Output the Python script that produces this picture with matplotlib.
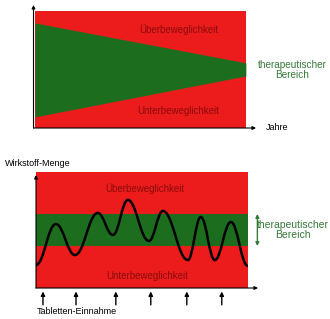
import numpy as np
import matplotlib
matplotlib.use("Agg")
import matplotlib.pyplot as plt
from matplotlib.path import Path
from matplotlib.patches import PathPatch

# top panel: therapeutic window narrowing over the years (0..10 on both axes)
window_x = [0, 10]
window_upper = [8.97, 5.56]
window_lower = [0.94, 4.44]

# bottom panel: drug level extrema over time
wave_t = [0, 0.94, 1.84, 2.92, 3.63, 4.34, 5.33, 5.99, 7.17, 7.78, 8.44, 9.2, 10]
wave_y = [1.98, 5.52, 2.84, 6.47, 4.57, 7.59, 4.05, 6.64, 2.41, 6.12, 2.41, 5.69, 1.9]
band = [3.62, 6.38]
doses = [0.33, 1.89, 3.77, 5.42, 7.12, 8.77]

red = "#ec1c1c"
green = "#1c6e1e"
dark_red = "#8b0a0a"
text_green = "#357a38"
plt.rcParams['font.family'] = ['Liberation Sans', 'DejaVu Sans']

fig = plt.figure(figsize=(3.3, 3.19), dpi=100)

# ---------- top ----------
ax1 = fig.add_axes([0.106, 0.599, 0.639, 0.367])
ax1.set_xlim(0, 10)
ax1.set_ylim(0, 10)
ax1.axvspan(0, 10, color=red, lw=0)
ax1.fill_between(window_x, window_lower, window_upper, color=green, lw=0)
ax1.text(6.8, 8.4, "Überbeweglichkeit", ha="center", va="center", color=dark_red, fontsize=7)
ax1.text(6.8, 1.45, "Unterbeweglichkeit", ha="center", va="center", color=dark_red, fontsize=7)
ax1.axis("off")

# ---------- bottom ----------
ax2 = fig.add_axes([0.109, 0.0972, 0.642, 0.3636])
ax2.set_xlim(0, 10)
ax2.set_ylim(0, 10)
ax2.axvspan(0, 10, color=red, lw=0)
ax2.axhspan(band[0], band[1], color=green, lw=0)
verts = [(wave_t[0], wave_y[0])]
codes = [Path.MOVETO]
for i in range(len(wave_t) - 1):
    dx = wave_t[i + 1] - wave_t[i]
    verts += [(wave_t[i] + 0.4 * dx, wave_y[i]),
              (wave_t[i + 1] - 0.4 * dx, wave_y[i + 1]),
              (wave_t[i + 1], wave_y[i + 1])]
    codes += [Path.CURVE4] * 3
ax2.add_patch(PathPatch(Path(verts, codes), fill=False, lw=1.8, ec="black"))
ax2.text(5.14, 8.6, "Überbeweglichkeit", ha="center", va="center", color=dark_red, fontsize=7)
ax2.text(5.24, 1.05, "Unterbeweglichkeit", ha="center", va="center", color=dark_red, fontsize=7)
ax2.axis("off")
for d in doses:
    ax2.annotate("", xy=(d, -0.3), xytext=(d, -1.45),
                 arrowprops=dict(arrowstyle="-|>", color="black", lw=1.0,
                                 mutation_scale=6, shrinkA=0, shrinkB=0),
                 annotation_clip=False)
ax2.annotate("", xy=(10.45, band[1]), xytext=(10.45, band[0]),
             arrowprops=dict(arrowstyle="<|-|>", color=text_green, lw=1.0,
                             mutation_scale=5, shrinkA=0, shrinkB=0),
             annotation_clip=False)

# axis arrows
def arrow(x0, y0, x1, y1):
    fig.add_artist(matplotlib.patches.FancyArrowPatch(
        (x0 / 330, 1 - y0 / 319), (x1 / 330, 1 - y1 / 319),
        transform=fig.transFigure, arrowstyle="-|>", mutation_scale=5,
        color="black", lw=0.8, shrinkA=0, shrinkB=0))

arrow(33.5, 128, 33.5, 5)
arrow(33.5, 128, 256, 128)
arrow(36, 288, 36, 175)
arrow(36, 288, 258, 288)

fig.text(292 / 330, 1 - 70 / 319, "therapeutischer\nBereich", ha="center", va="center",
         color=text_green, fontsize=7.2, linespacing=1.1)
fig.text(266 / 330, 1 - 128 / 319, "Jahre", ha="left", va="center", color="black", fontsize=6.5)
fig.text(293 / 330, 1 - 230 / 319, "therapeutischer\nBereich", ha="center", va="center",
         color=text_green, fontsize=7.5, linespacing=1.1)
fig.text(5 / 330, 1 - 163 / 319, "Wirkstoff-Menge", ha="left", va="center", color="black", fontsize=6.5)
fig.text(37 / 330, 1 - 312 / 319, "Tabletten-Einnahme", ha="left", va="center", color="black", fontsize=6.5)

fig.savefig("out.png", dpi=100)
